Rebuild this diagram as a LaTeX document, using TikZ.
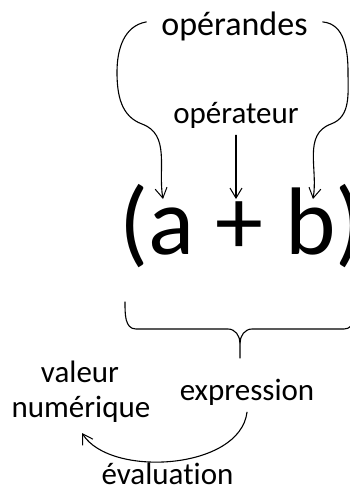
\documentclass[tikz,border=0pt]{standalone}
\usepackage{fontspec}
\setmainfont{Carlito}[Ligatures=NoCommon]
\usepackage{xcolor}
\usepackage{tikz}
\usetikzlibrary{arrows.meta}
\definecolor{exInk}{HTML}{000000}
\tikzset{
  ex diagram/.style={x=1pt, y=1pt, text=exInk,
    line cap=round, line join=round},
  ex label/.style={font=\fontsize{31}{34}\selectfont, inner sep=3pt},
  ex wide label/.style={ex label, font=\fontsize{34}{37}\selectfont},
  ex big/.style={font=\fontsize{96}{100}\selectfont, inner sep=0pt},
  ex arrow/.style={-{Straight Barb[length=10pt,width=12pt,line width=1pt]},
    draw=exInk, line width=1.1pt},
  ex brace/.style={draw=exInk, line width=1.1pt}
}
\begin{document}
\begin{tikzpicture}[ex diagram]
\useasboundingbox (0,0) rectangle (349,-488);
\node[ex wide label,anchor=base] (operandes) at (234.5,-35) {opérandes};
\node[ex label,anchor=base] (operateur) at (236,-123) {opérateur};
\node[ex big,anchor=base west] (expr) at (119,-254) {(a + b)};
\coordinate (tipA) at (163,-199);
\coordinate (tipPlus) at (236,-199);
\coordinate (tipB) at (313,-199);
\draw[ex arrow] ([xshift=-12pt,yshift=4pt]operandes.west) to[out=190,in=90] (117,-72)
  to[out=-90,in=160] (142,-124) to[out=-20,in=100] (tipA);
\draw[ex arrow] ([xshift=12pt,yshift=4pt]operandes.east) to[out=-5,in=90] (348,-72)
  to[out=-90,in=20] (331,-124) to[out=200,in=80] (tipB);
\draw[ex arrow] ([yshift=-4pt]operateur.south) -- (tipPlus);
\coordinate (braceL) at (125,-302);
\coordinate (braceR) at (355,-302);
\coordinate (braceTip) at (240,-358);
\draw[ex brace] (braceL) to[out=-90,in=180] (136,-329) -- (228,-329)
  to[out=0,in=90] (240,-343) -- (braceTip);
\draw[ex brace] (braceR) to[out=-90,in=0] (344,-329) -- (252,-329)
  to[out=180,in=90] (240,-343);
\node[ex label,anchor=base] (expression) at (247,-400) {expression};
\node[ex label,anchor=base] (valeur) at (80,-382) {valeur};
\node[ex label,anchor=base] (numerique) at (81,-417) {numérique};
\node[ex label,anchor=base] (evaluation) at (167.5,-484) {évaluation};
\coordinate (tipEval) at (82,-433);
\draw[ex arrow] ([yshift=-4pt]expression.south) .. controls (240,-470) and (110,-478) .. (tipEval);
\end{tikzpicture}
\end{document}
